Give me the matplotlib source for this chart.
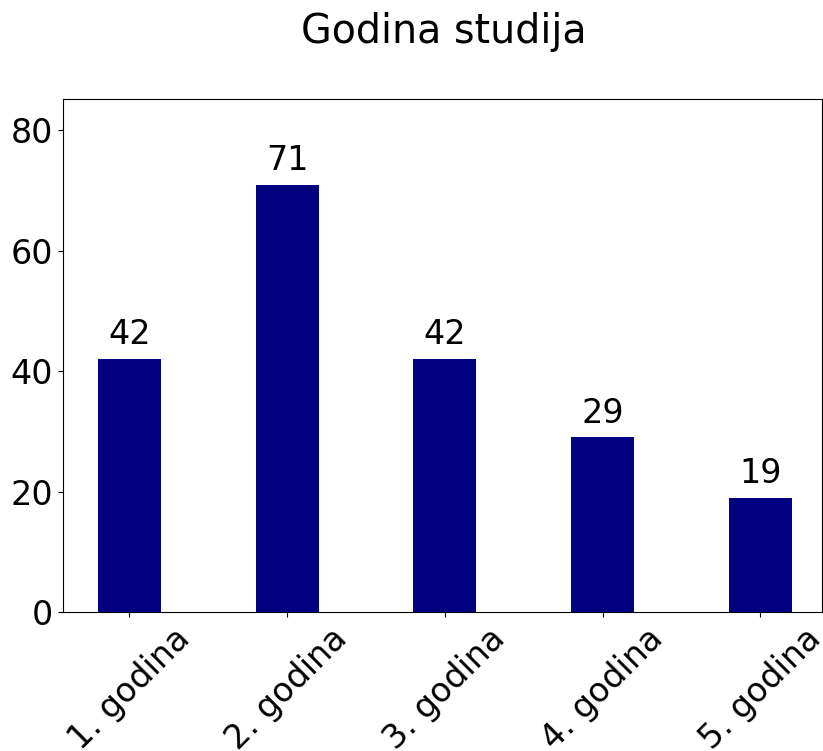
import matplotlib
matplotlib.use("Agg")
import matplotlib.pyplot as plt

categories = ["1. godina", "2. godina", "3. godina", "4. godina", "5. godina"]
values = [42, 71, 42, 29, 19]

fig = plt.figure(figsize=(8.23, 7.51), dpi=100)
ax = fig.add_axes([0.0766, 0.185, 0.922, 0.683])

x = range(len(categories))
bars = ax.bar(x, values, width=0.4, color="navy")
for b, v in zip(bars, values):
    ax.text(b.get_x() + b.get_width() / 2, v + 1.3, str(v),
            ha="center", va="bottom", fontsize=24)

ax.set_xticks(list(x))
ax.set_xticklabels(categories, rotation=45, fontsize=24)
ax.tick_params(axis="y", labelsize=24)
ax.set_yticks([0, 20, 40, 60, 80])
ax.set_ylim(0, 85.2)
ax.set_xlim(-0.42, 4.39)
fig.text(0.539, 0.958, "Godina studija", fontsize=28.5, ha="center", va="center")

fig.savefig("out.png", dpi=100)
